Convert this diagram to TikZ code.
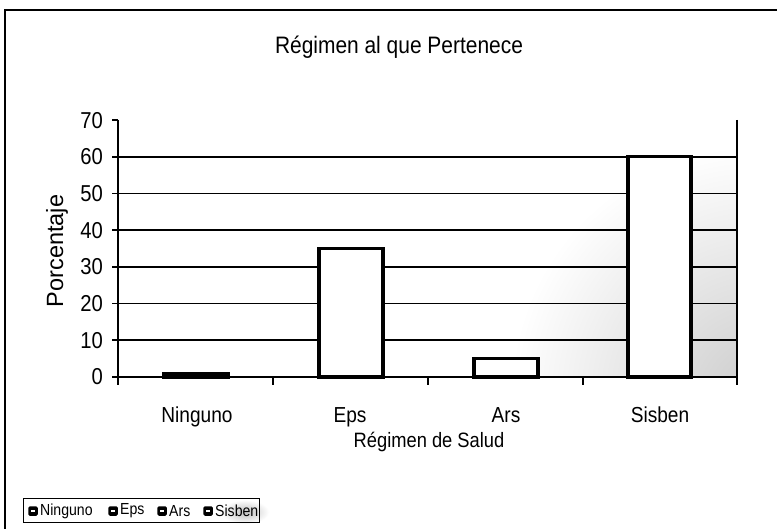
\documentclass[tikz,border=0pt]{standalone}
\usepackage{fontspec}
\setmainfont{Liberation Sans}
\newfontfamily\condfont{Liberation Sans}[FakeStretch=0.88]
\begin{document}
\begin{tikzpicture}[x=1pt,y=-1pt,
  gridline/.style={line width=1.6pt,black},
  axisline/.style={line width=1.6pt,black},
  barbox/.style={draw=black,fill=white,line width=3.2pt},
  ticklab/.style={anchor=east,inner sep=0pt,font=\condfont\fontsize{23}{23}\selectfont},
  catlab/.style={anchor=base,inner sep=0pt,font=\condfont\fontsize{21.7}{21.7}\selectfont},
  legicon/.style={fill=black,rounded corners=1.5pt,minimum size=9.5pt,inner sep=0pt},
  leglab/.style={anchor=west,inner sep=0pt,font=\condfont\fontsize{16}{16}\selectfont}]
\useasboundingbox (0,0) rectangle (777,529);
\fill[white] (0,0) rectangle (777,529);
% outer frame
\draw[line width=1.4pt] (5,540) -- (5,10) -- (790,10);
% title
\node[anchor=base,inner sep=0pt,font=\condfont\fontsize{23.8}{23.8}\selectfont] (title) at (399,54) {Régimen al que Pertenece};
% speckled background (scan shading)
\begin{scope}
\clip (118,120) rectangle (737,377);
\shade[inner color=gray!40,outer color=white] (760,395) circle (250);
\end{scope}
% gridlines
\foreach \v in {10,20,...,60} {
  \draw[gridline] (112,{377-3.67*\v}) -- (737,{377-3.67*\v});
}
% axes
\coordinate (o) at (118,377);
\coordinate (ytop) at (118,120);
\coordinate (xend) at (737,377);
\coordinate (rtop) at (737,120);
\draw[axisline] (ytop) -- (o) -- (xend);
\draw[axisline] (rtop) -- (xend);
\draw[axisline] (112,120) -- (118,120);
\draw[axisline] (112,377) -- (118,377);
% category ticks
\foreach \x in {118,273,428,583,737} {
  \draw[axisline] (\x,377) -- (\x,385);
}
% y tick labels
\foreach \v in {0,10,...,70} {
  \node[ticklab] (t\v) at (103,{377-3.67*\v}) {\v};
}
% bars
\draw[barbox] (164,377) rectangle (228,{377-3.67*1});
\draw[barbox] (319,377) rectangle (383,{377-3.67*35});
\draw[barbox] (474,377) rectangle (538,{377-3.67*5});
\draw[barbox] (628,377) rectangle (691,{377-3.67*60});
% category labels
\node[catlab] (c1) at (197,422) {Ninguno};
\node[catlab] (c2) at (350,422) {Eps};
\node[catlab] (c3) at (506,422) {Ars};
\node[catlab] (c4) at (660,422) {Sisben};
% axis titles
\node[anchor=base,inner sep=0pt,font=\condfont\fontsize{20.8}{20.8}\selectfont] (xt) at (429,447) {Régimen de Salud};
\node[rotate=90,inner sep=0pt,font=\fontsize{23.5}{23.5}\selectfont] (yt) at (57,251) {Porcentaje};
% legend
\shade[inner color=gray!50,outer color=white] (245,512) ellipse (24 and 12);
\node[draw=black,line width=1.3pt,minimum width=236pt,minimum height=24pt,anchor=north west,inner sep=0pt] (leg) at (23,498) {};
\node[legicon] (i1) at (33,511) {};
\node[leglab] (l1) at (40,511) {Ninguno};
\node[legicon] (i2) at (113,511) {};
\node[leglab] (l2) at (120,511) {Eps};
\node[legicon] (i3) at (162,511) {};
\node[leglab] (l3) at (169,511) {Ars};
\node[legicon] (i4) at (208,511) {};
\node[leglab] (l4) at (215,511) {Sisben};
\foreach \i in {i1,i2,i3,i4} {
  \fill[white] ([xshift=-2pt,yshift=-1pt]\i.center) rectangle ([xshift=2pt,yshift=1.5pt]\i.center);
}
\end{tikzpicture}
\end{document}
